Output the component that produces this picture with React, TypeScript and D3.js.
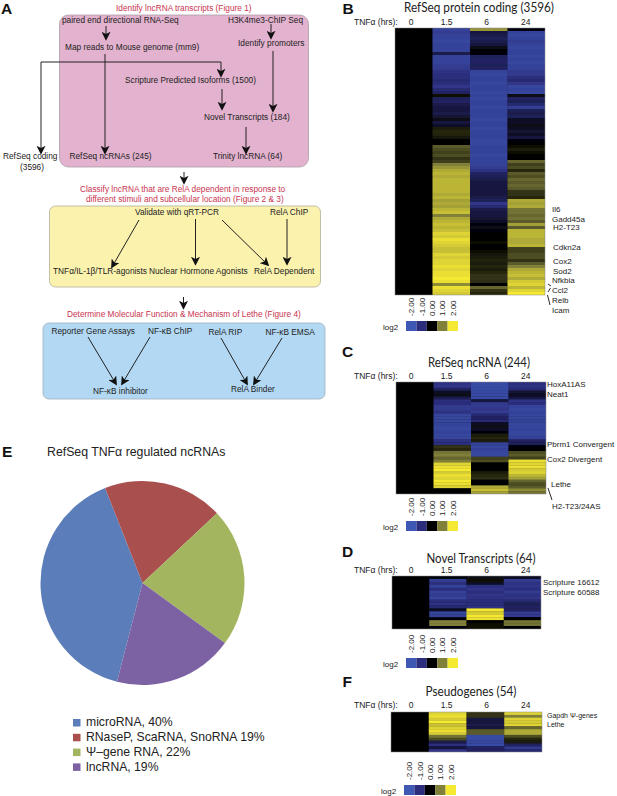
// Lethe figure: lncRNA pipeline (A), TNFa heatmaps (B, C, D, F) and ncRNA class pie (E)
import * as d3 from 'd3';

const ARIAL = '"Liberation Sans", Arial, sans-serif';
const TITLE_FONT = 'Lato, "Open Sans", sans-serif';
const RED = '#c9344f';

const timepoints = ['0', '1.5', '6', '24'];
const legendTicks = [-2, -1, 0, 1, 2];
const legendColors = ['#3f58b4', '#2c2d7d', '#000000', '#80803a', '#f6e932'];

// log2 fold change per row, read top to bottom. The 0 hr column is the baseline (all 0).
const codingAt1h = [
  -1.5, -1.4, -1.5, -1.5, -1.6, -1.5, -1.5, -1.5, -0.6, -1.5, -1.5, -1.5, -1.4, -1.3, -1.1, -1.0, -1.0, -0.9, -1.0,
  -1.2, -0.9, -0.8, 0.1, -0.7, -0.8, -0.6, -0.5, -0.5, -0.6, -0.4, -0.2, -0.5, -0.3, 0.2, 0.3, 0.25, 0.15, 0.05, 0.0,
  0.7, 0.6, 0.5, 0.6, 0.4, 0.5, 1.0, 1.2, 1.4, 1.5, 1.4, 1.5, 1.5, 1.5, 1.5, 1.5, 1.4, 1.5, 1.3, 1.4, 1.3, 1.5, 1.6,
  1.0, 1.4, 1.5, 1.6, 1.5, 1.6, 1.8, 1.7, 1.9, 1.8, 1.7, 1.6, 1.6, 1.8, 1.7, 1.8, 1.8, 1.9, 1.8, 1.9, 1.9, 2.0, 1.9,
  1.1, 1.9, 1.8, 1.7,
];
const codingAt6h = [
  1.2, -0.5, -0.6, -0.7, -0.6, -0.5, -0.2, -0.05, -0.1, -0.7, -0.8, -0.8, -0.7, -0.8, -1.5, -1.6, -1.5, -1.5, -1.6,
  -1.5, -1.5, -1.6, -1.5, -1.6, -1.5, -1.5, -1.6, -1.5, -1.5, -1.5, -1.6, -1.5, -1.5, -1.6, -1.5, -1.5, -1.5, -1.6,
  -1.6, -1.5, -1.5, -1.5, -1.6, -1.5, -1.5, -1.5, -1.4, -1.1, -0.8, -0.7, -0.6, -0.5, -0.5, -0.5, -0.5, -0.5, -0.6,
  -0.7, -1.2, -0.9, -0.6, -0.5, -0.5, -0.4, -0.3, -0.1, -0.15, -0.1, -0.05, 0.0, 0.05, 0.1, 0.0, 0.0, 0.1, 0.15, 0.2,
  0.25, 0.2, 0.3, 0.2, 0.3, 0.4, 0.4, 0.35, 0.0, 0.8, 0.4, 0.3,
];
const codingAt24h = [
  -0.1, -1.5, -1.6, -1.5, -1.4, -1.5, -1.6, -1.5, -1.5, -1.6, -1.5, -1.6, -1.5, -1.5, -1.3, -1.3, -1.0, -0.9, -1.2,
  -1.6, -1.5, -1.6, -0.2, -0.8, -0.7, -0.9, -1.4, -0.7, -0.6, -0.7, -0.3, -0.3, -0.2, -0.3, -0.4, -0.3, -0.5, -0.1,
  0.0, 0.1, 0.2, 0.1, 0.0, -0.05, 0.8, 0.5, 0.6, 0.3, 0.7, 0.6, 0.8, 0.7, 0.8, 0.7, 0.4, 0.4, 0.3, 1.4, 1.3, 1.4, 0.9,
  0.9, 0.8, 0.9, 0.7, 1.3, 0.7, 1.5, 1.5, 1.5, 1.4, 1.4, 1.5, 0.5, 0.5, 0.6, 0.6, 0.4, 0.7, 1.0, 1.4, 1.5, 1.6, 1.4,
  1.7, 1.8, 1.5, 1.8, 2.0,
];

const ncrnaAt1h = [
  -1.1, -1.2, -0.8, -0.3, -0.2, -0.6, -1.0, -1.0, -1.3, -1.3, -1.1, -1.6, -1.6, -1.6, -1.5, -1.6, -1.6, -1.5, -1.6,
  -1.6, -1.1, -1.0, 0.4, 0.3, 0.9, 1.0, 0.8, 1.0, 1.8, 1.9, 2.0, 1.7, 1.9, 1.8, 2.0, 1.9, 1.8, 0.0, 0.0,
];
const ncrnaAt6h = [
  -1.7, -1.7, -1.7, -1.7, -1.7, -1.7, -0.5, -1.3, -1.3, -1.2, -1.4, -0.9, -0.8, -0.9, -0.3, -0.2, -0.3, -0.1, 0.2,
  0.3, 0.2, -1.5, -1.6, -1.5, -1.6, -1.6, 0.5, 0.6, 0.0, 0.05, 0.0, 0.2, 0.3, 0.35, 0.0, 0.0, 1.4, 1.6, 1.3,
];
const ncrnaAt24h = [
  -1.0, -1.1, -0.9, -0.4, -0.3, -0.5, -1.1, -1.0, -1.5, -1.6, -1.5, -1.6, -1.6, -1.5, -1.6, -1.6, -1.5, -1.6, -1.6,
  -1.5, -0.8, -0.7, -0.1, 0.0, 0.6, 0.7, 0.5, 1.9, 1.8, 1.9, 1.7, 1.8, 1.5, 1.3, 0.8, 0.6, 0.7, 1.1, 0.9,
];

const novelAt1h = [-0.1, -1.4, -1.0, -1.5, -1.0, -1.5, -1.3, -1.6, -1.0, -1.1, -0.9, -0.3, -1.6, -1.5, -0.1, 1.0, 1.0, -0.1];
const novelAt6h = [-0.2, 0.1, -0.3, -1.0, -1.2, -1.0, -1.2, -1.1, -1.0, -1.0, -1.1, 2.0, 1.7, 2.0, 1.9, 0.0, 0.1, 0.1];
const novelAt24h = [-0.3, -1.3, -1.1, -1.2, -1.0, -1.3, -1.1, -1.2, -0.9, -0.7, -0.8, -0.8, -1.4, -1.3, 0.0, 0.9, 0.9, 0.0];

const pseudoAt1h = [1.8, 1.9, 1.7, 2.0, 1.6, 1.8, 1.9, 1.7, 0.9, 0.6, -0.6, -1.0, -0.5, -1.2];
const pseudoAt6h = [0.4, 0.4, -0.5, -0.5, -0.6, -0.5, 0.7, 0.7, -1.7, -1.7, -1.6, -1.7, -0.8, -0.8];
const pseudoAt24h = [1.8, 1.0, 1.8, 1.7, 1.8, 0.8, 1.4, 1.4, 0.6, 0.3, 0.2, -0.8, -1.3, -0.9];

// Pie shares, clockwise from the lower edge of the microRNA slice
const pieLabels = ['microRNA, 40%', 'RNaseP, ScaRNA, SnoRNA 19%', 'Ψ–gene RNA, 22%', 'lncRNA, 19%'];
const pieValues = [40, 19, 22, 19];
const pieColors = ['#5b7eba', '#a94f4e', '#a3b65f', '#7c62a2'];

// Flow diagram text: [label, x, y, colour]
const flowLabels: [string, number, number, string?][] = [
  ['Identify lncRNA transcripts (Figure 1)', 116, 9, RED],
  ['paired end directional RNA-Seq', 62, 21],
  ['H3K4me3-ChIP Seq', 228, 21],
  ['Map reads to Mouse genome (mm9)', 65, 48],
  ['Identify promoters', 238, 44],
  ['Scripture Predicted Isoforms (1500)', 125, 81],
  ['Novel Transcripts (184)', 204, 118],
  ['RefSeq ncRNAs (245)', 69.5, 157],
  ['Trinity lncRNA (64)', 213, 157],
  ['RefSeq coding', 3, 157],
  ['(3596)', 20, 167.5],
  ['Classify lncRNA that are RelA dependent in response to', 80, 190, RED],
  ['different stimuli and subcellular location (Figure 2 & 3)', 86, 200, RED],
  ['Validate with qRT-PCR', 135, 213],
  ['RelA ChIP', 270, 213],
  ['TNFα/IL-1β/TLR-agonists', 53, 272],
  ['Nuclear Hormone Agonists', 149, 272],
  ['RelA Dependent', 254, 272],
  ['Determine Molecular Function & Mechanism of Lethe (Figure 4)', 67, 315, RED],
  ['Reporter Gene Assays', 51.5, 332],
  ['NF-κB ChIP', 148, 332],
  ['RelA RIP', 208.5, 333],
  ['NF-κB EMSA', 265.5, 333],
  ['NF-κB inhibitor', 93, 392],
  ['RelA Binder', 231, 390],
];

// Flow diagram arrows: [x1, y1, x2, y2]
const flowArrows: number[][] = [
  [106, 26, 106, 39],
  [271, 24, 271, 38],
  [105, 54, 105, 153],
  [273, 51, 273, 111],
  [222, 89, 222, 109],
  [246, 127, 246, 153],
  [41, 62, 41, 153],
  [221, 62, 221, 76],
  [184, 172, 184, 183],
  [139, 220, 112, 267],
  [195.5, 219, 195.5, 264],
  [222, 220, 268, 265],
  [287, 219, 287, 264],
  [183.5, 297, 183.5, 308],
  [88, 337, 116, 384],
  [150, 337, 122, 384],
  [221, 338, 247, 384],
  [282, 338, 254, 384],
];

const heatColor = d3.scaleLinear<string>().domain(legendTicks).range(legendColors).clamp(true);

interface HeatmapProps {
  id: string;
  title: string;
  titleX: number;
  titleY: number;
  titleWidth: number;
  labelY: number;
  x: number;
  y: number;
  width: number;
  height: number;
  columns: number[][];
  legendX: number;
  legendY: number;
}

function Heatmap({ id, title, titleX, titleY, titleWidth, labelY, x, y, width, height, columns, legendX, legendY }: HeatmapProps) {
  const xScale = d3.scaleBand<string>().domain(timepoints).range([x, x + width]);
  const rowCount = columns[0].length;
  const yScale = d3.scaleBand<number>().domain(d3.range(rowCount)).range([y, y + height]);
  const legendScale = d3
    .scaleBand<number>()
    .domain(legendTicks)
    .range([legendX, legendX + 52]);

  return (
    <g>
      <text
        x={titleX - titleWidth / 2}
        y={titleY}
        textLength={titleWidth}
        lengthAdjust="spacingAndGlyphs"
        fontFamily={TITLE_FONT}
        fontSize={12.5}
        fill="#222"
      >
        {title}
      </text>
      <text x={354} y={labelY} fontFamily={ARIAL} fontSize={8.5} fill="#222">
        TNFα (hrs):
      </text>
      {timepoints.map((t, i) => (
        <text
          key={t}
          x={[411, 446.7, 486.7, 525.7][i]}
          y={labelY}
          textAnchor="middle"
          fontFamily={ARIAL}
          fontSize={8.5}
          fill="#222"
        >
          {t}
        </text>
      ))}
      <clipPath id={id}>
        <rect x={x} y={y} width={width} height={height} />
      </clipPath>
      <g clipPath={`url(#${id})`}>
        <rect x={x} y={y} width={width} height={height} fill="#000" />
        <g filter="url(#soft)">
          {columns.map((values, c) =>
            values.map((v, r) => (
              <rect
                key={`${c}-${r}`}
                x={xScale(timepoints[c + 1])}
                y={yScale(r)}
                width={xScale.bandwidth() + 0.3}
                height={yScale.bandwidth() + 0.3}
                fill={heatColor(v)}
              />
            ))
          )}
        </g>
      </g>
      <rect x={x} y={y} width={width} height={height} fill="none" stroke="#888" strokeWidth={0.5} />
      {legendTicks.map((t, i) => (
        <g key={t}>
          <rect
            x={legendScale(t)}
            y={legendY}
            width={legendScale.bandwidth()}
            height={10}
            fill={legendColors[i]}
          />
          <text
            transform={`translate(${(legendScale(t) as number) + legendScale.bandwidth() / 2 + 3},${legendY - 5}) rotate(-90)`}
            fontFamily={ARIAL}
            fontSize={8}
            fill="#222"
          >
            {t.toFixed(2)}
          </text>
        </g>
      ))}
      <text x={legendX - 23} y={legendY + 8.5} fontFamily={ARIAL} fontSize={8} fill="#222">
        log2
      </text>
    </g>
  );
}

function Tag({ x, y, children }: { x: number; y: number; children: string }) {
  return (
    <text x={x} y={y} dominantBaseline="middle" fontFamily={ARIAL} fontSize={8} fill="#222">
      {children}
    </text>
  );
}

function Letter({ x, y, children }: { x: number; y: number; children: string }) {
  return (
    <text x={x} y={y} fontFamily={ARIAL} fontWeight={700} fontSize={15.5} fill="#111">
      {children}
    </text>
  );
}

export default function App() {
  const pie = d3
    .pie<number>()
    .sort(null)
    .startAngle((194.5 * Math.PI) / 180)
    .endAngle((194.5 * Math.PI) / 180 + 2 * Math.PI)(pieValues);
  const arc = d3.arc<d3.PieArcDatum<number>>().innerRadius(0).outerRadius(102);

  return (
    <svg
      width={617}
      height={796}
      viewBox="0 0 617 796"
      style={{ position: 'absolute', left: 0, top: 0, background: '#fff' }}
    >
      <defs>
        <marker id="head" viewBox="0 0 10 10" refX="8" refY="5" markerWidth="9" markerHeight="9" markerUnits="userSpaceOnUse" orient="auto">
          <path d="M0,0 L10,5 L0,10 L2.5,5 Z" fill="#111" />
        </marker>
        <filter id="soft" x="-2%" y="-2%" width="104%" height="104%">
          <feGaussianBlur stdDeviation="0.45" />
        </filter>
      </defs>

      {/* Panel A */}
      <rect x={59.5} y={15} width={249} height={152} rx={9} fill="#e3b2ce" stroke="#a9a0a6" strokeWidth={0.8} />
      <rect x={49.5} y={206} width={271} height={81} rx={6} fill="#fbf2ae" stroke="#b3b09a" strokeWidth={0.8} />
      <rect x={43} y={323} width={282} height={76} rx={6} fill="#b2d8f3" stroke="#9fb0bd" strokeWidth={0.8} />

      <path d="M41,62 H221" fill="none" stroke="#222" strokeWidth={1} />
      {flowArrows.map((a, i) => (
        <line key={i} x1={a[0]} y1={a[1]} x2={a[2]} y2={a[3]} stroke="#222" strokeWidth={1} markerEnd="url(#head)" />
      ))}
      {flowLabels.map(([label, x, y, color]) => (
        <text
          key={label}
          x={x}
          y={y}
          dominantBaseline="middle"
          fontFamily={ARIAL}
          fontSize={8.3}
          fill={color || '#222'}
        >
          {label}
        </text>
      ))}

      <Letter x={1} y={13.5}>A</Letter>
      <Letter x={342.5} y={14}>B</Letter>
      <Letter x={342} y={356.5}>C</Letter>
      <Letter x={342} y={556.5}>D</Letter>
      <Letter x={2} y={457}>E</Letter>
      <Letter x={342.5} y={687}>F</Letter>

      {/* Panels B, C, D, F */}
      <Heatmap
        id="clip-b"
        title="RefSeq protein coding (3596)"
        titleX={479}
        titleY={11.5}
        titleWidth={150}
        labelY={25}
        x={395}
        y={28}
        width={150}
        height={267}
        columns={[codingAt1h, codingAt6h, codingAt24h]}
        legendX={406}
        legendY={321}
      />
      <Heatmap
        id="clip-c"
        title="RefSeq ncRNA (244)"
        titleX={479}
        titleY={367}
        titleWidth={102}
        labelY={379}
        x={396}
        y={382}
        width={150}
        height={112}
        columns={[ncrnaAt1h, ncrnaAt6h, ncrnaAt24h]}
        legendX={406}
        legendY={521}
      />
      <Heatmap
        id="clip-d"
        title="Novel Transcripts (64)"
        titleX={481}
        titleY={563}
        titleWidth={109}
        labelY={573}
        x={392}
        y={576}
        width={149}
        height={53}
        columns={[novelAt1h, novelAt6h, novelAt24h]}
        legendX={406}
        legendY={658}
      />
      <Heatmap
        id="clip-f"
        title="Pseudogenes (54)"
        titleX={471}
        titleY={696}
        titleWidth={91}
        labelY={708}
        x={391}
        y={712}
        width={151}
        height={40}
        columns={[pseudoAt1h, pseudoAt6h, pseudoAt24h]}
        legendX={404}
        legendY={785}
      />

      <Tag x={552} y={210}>Il6</Tag>
      <Tag x={552} y={220}>Gadd45a</Tag>
      <Tag x={553} y={228}>H2-T23</Tag>
      <Tag x={553} y={248}>Cdkn2a</Tag>
      <Tag x={553} y={262}>Cox2</Tag>
      <Tag x={553} y={272}>Sod2</Tag>
      <Tag x={552} y={281}>Nfkbia</Tag>
      <Tag x={552} y={291}>Ccl2</Tag>
      <Tag x={552} y={301}>Relb</Tag>
      <Tag x={552} y={311}>Icam</Tag>
      <path d="M548,284 L551,286 M548,292 L550.5,288 M547.5,295 L550,305" stroke="#111" strokeWidth={0.9} fill="none" />

      <Tag x={547} y={385}>HoxA11AS</Tag>
      <Tag x={547} y={395}>Neat1</Tag>
      <Tag x={547} y={445}>Pbrm1 Convergent</Tag>
      <Tag x={547} y={460}>Cox2 Divergent</Tag>
      <Tag x={551} y={485}>Lethe</Tag>
      <Tag x={552} y={507}>H2-T23/24AS</Tag>
      <path d="M548,488 L552,500" stroke="#111" strokeWidth={0.9} fill="none" />

      <Tag x={543} y={583}>Scripture 16612</Tag>
      <Tag x={543} y={593}>Scripture 60588</Tag>

      <text x={547} y={716} dominantBaseline="middle" fontFamily={ARIAL} fontSize={7} fill="#222">Gapdh Ψ-genes</text>
      <text x={547} y={725} dominantBaseline="middle" fontFamily={ARIAL} fontSize={7} fill="#222">Lethe</text>

      {/* Panel E */}
      <text x={47} y={456} fontFamily={ARIAL} fontSize={12.3} fill="#222">
        RefSeq TNFα regulated ncRNAs
      </text>
      <g transform="translate(142.5,583)">
        {pie.map((d, i) => (
          <path key={i} d={arc(d) as string} fill={pieColors[i]} />
        ))}
      </g>
      {pieLabels.map((label, i) => (
        <g key={label}>
          <rect x={73} y={719 + i * 14.8} width={7.5} height={7.5} fill={pieColors[i]} />
          <text x={86} y={723 + i * 14.8} dominantBaseline="middle" fontFamily={ARIAL} fontSize={12.2} fill="#222">
            {label}
          </text>
        </g>
      ))}
    </svg>
  );
}
